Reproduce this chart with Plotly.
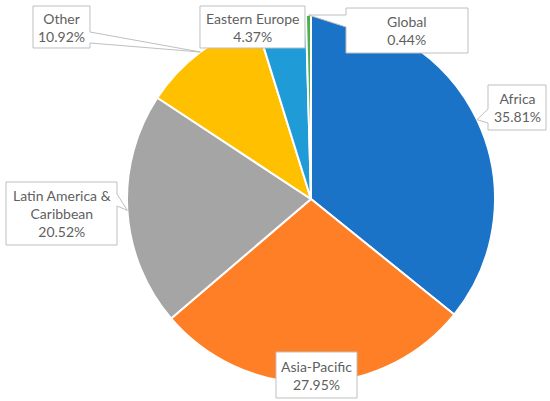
import math
import plotly.graph_objects as go

regions = ["Africa", "Asia-Pacific", "Latin America &<br>Caribbean", "Other", "Eastern Europe", "Global"]
shares = [35.81, 27.95, 20.52, 10.92, 4.37, 0.44]
colors = ["#1B73C8", "#FF7F27", "#A5A5A5", "#FFC000", "#1F9BD7", "#4CAF50"]

W, H = 550, 401
CX, CY, R = 311, 199, 184  # pie centre / radius in pixels

# callout boxes in pixels: (x0, y0, x1, y1, pointer side, base a, base b)
boxes = {
    "Africa": (488, 85, 546, 130, "left", 109, 123),
    "Asia-Pacific": (276, 352, 357, 398, None, 0, 0),
    "Latin America &<br>Caribbean": (6, 182, 117, 245, "right", 194, 206),
    "Other": (33, 6, 90, 48, "right", 32, 43),
    "Eastern Europe": (200, 6, 305, 48, None, 0, 0),
    "Global": (346, 8, 468, 53, "left", 15, 27),
}


def px(x, y):
    return x / W, 1 - y / H


fig = go.Figure(go.Pie(
    labels=regions, values=shares, sort=False, direction="clockwise", rotation=0,
    marker=dict(colors=colors, line=dict(color="white", width=2)),
    textinfo="none", hoverinfo="label+percent", showlegend=False,
    domain=dict(x=[(CX - R) / W, (CX + R) / W], y=[1 - (CY + R) / H, 1 - (CY - R) / H]),
))

total = sum(shares)
cum = 0
for name, v in zip(regions, shares):
    mid = (cum + v / 2) / total * 2 * math.pi
    cum += v
    tip = (CX + R * math.sin(mid), CY - R * math.cos(mid))
    x0, y0, x1, y1, side, a, b = boxes[name]
    if side == "left":
        pts = [(x0, y0), (x1, y0), (x1, y1), (x0, y1), (x0, b), tip, (x0, a)]
    elif side == "right":
        pts = [(x0, y0), (x1, y0), (x1, a), tip, (x1, b), (x1, y1), (x0, y1)]
    else:
        pts = [(x0, y0), (x1, y0), (x1, y1), (x0, y1)]
    path = "M " + " L ".join("%.4f,%.4f" % px(*p) for p in pts) + " Z"
    fig.add_shape(type="path", path=path, xref="paper", yref="paper",
                  fillcolor="white", line=dict(color="#BFBFBF", width=1), layer="above")
    cx, cy = px((x0 + x1) / 2, (y0 + y1) / 2)
    fig.add_annotation(x=cx, y=cy, xref="paper", yref="paper", showarrow=False,
                       xanchor="center", yanchor="middle",
                       text="%s<br>%.2f%%" % (name, v), align="center",
                       font=dict(family="Lato", size=14, color="#5F5F5F"))

fig.update_layout(width=W, height=H, margin=dict(l=0, r=0, t=0, b=0),
                  paper_bgcolor="white", plot_bgcolor="white")
fig.write_html("out.html", config={"displayModeBar": False},
               post_script="document.body.style.margin='0px';")
